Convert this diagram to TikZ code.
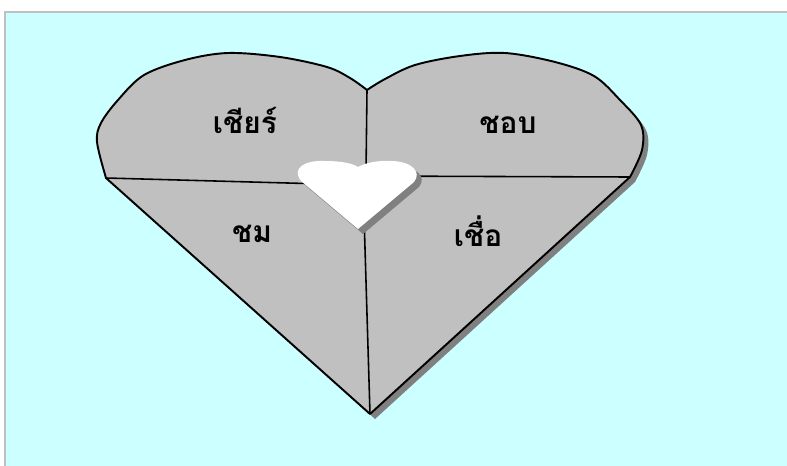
\documentclass[tikz,border=0pt]{standalone}
\usepackage{fontspec}
\newfontfamily\thaifont[Script=Thai]{Loma}
\definecolor{skybg}{HTML}{CCFFFF}
\definecolor{heartgray}{HTML}{C0C0C0}
\definecolor{shadowgray}{HTML}{808080}

\begin{document}
\begin{tikzpicture}[
        x=0.02cm, y=-0.02cm,
        heart/.style={draw=black, line width=1.1pt, fill=heartgray, line join=round},
        split/.style={draw=black, line width=0.9pt},
        shade/.style={fill=shadowgray, draw=none},
        word/.style={font=\thaifont\bfseries\fontsize{17}{20}\selectfont, anchor=base}
    ]
        \useasboundingbox (0,0) rectangle (787,466);
        \draw[fill=skybg, draw=heartgray, line width=1pt] (5,12) rectangle (800,480);

        % outline of the big heart and of the small one
        \def\bigheart{(370,414) -- plot[smooth, tension=0.55] coordinates {(106,178) (97,142) (101,123) (118,100) (144,75) (185,60) (228,53) (280,57) (327,67) (350,78) (367,90)}
            -- plot[smooth, tension=0.55] coordinates {(367,90) (385,79) (415,65) (460,56) (505,53) (555,62) (594,76) (620,100) (641,125) (642,150) (630,177)} -- cycle}
        \def\smallheart{(358,229) -- (301,181) .. controls (291,168) and (305,160) .. (325,161) .. controls (340,161) and (352,163) .. (358,167) .. controls (365,163) and (378,160) .. (393,161) .. controls (412,162) and (422,172) .. (414,182) -- cycle}

        \begin{scope}[shift={(5,5)}]
            \path[shade] \bigheart;
        \end{scope}
        \path[heart] \bigheart;

        \coordinate (tip) at (370,414);
        \coordinate (dip) at (367,90);
        \coordinate (lft) at (106,178);
        \coordinate (rgt) at (630,177);
        \coordinate (hubT) at (366,172);
        \coordinate (hubB) at (364,215);
        \coordinate (hubL) at (360,185);
        \coordinate (hubR) at (360,176);

        \draw[split] (dip) -- (hubT);
        \draw[split] (hubB) -- (tip);
        \draw[split] (lft) -- (hubL);
        \draw[split] (rgt) -- (hubR);

        \begin{scope}[shift={(5,5)}]
            \path[shade] \smallheart;
        \end{scope}
        \path[fill=white] \smallheart;

        \node[word] (cheer) at (245,133) {เชียร์};
        \node[word] (chop) at (508,133) {ชอบ};
        \node[word] (chom) at (252,242) {ชม};
        \node[word] (chuea) at (478,246) {เชื่อ};
    \end{tikzpicture}
\end{document}
